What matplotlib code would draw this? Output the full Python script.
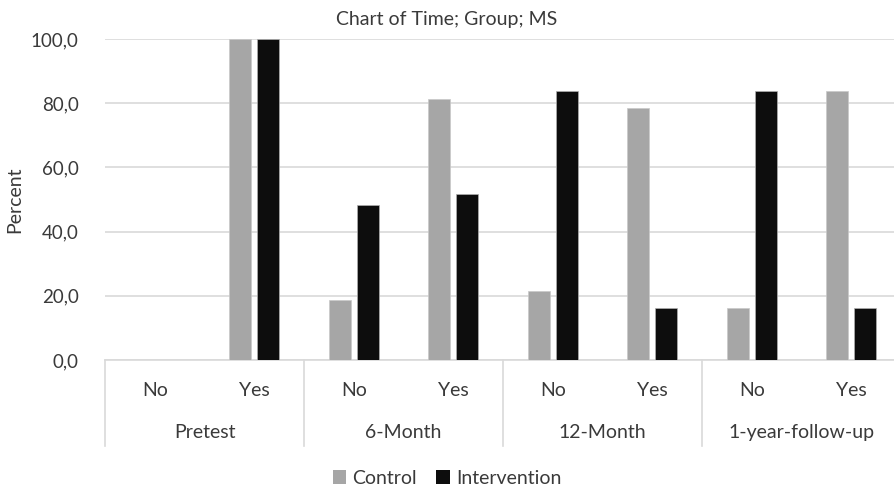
import matplotlib
matplotlib.use("Agg")
import matplotlib.pyplot as plt
import matplotlib.transforms as mtransforms
from matplotlib.patches import Patch
import numpy as np

plt.rcParams['font.family'] = ['Lato', 'DejaVu Sans']

groups = ["Pretest", "6-Month", "12-Month", "1-year-follow-up"]
subcats = ["No", "Yes"]
control = [0.0, 100.0, 18.8, 81.2, 21.6, 78.4, 16.1, 83.9]
intervention = [0.0, 100.0, 48.4, 51.6, 83.9, 16.1, 83.9, 16.1]
yticks = [0, 20, 40, 60, 80, 100]
ytick_labels = ["0,0", "20,0", "40,0", "60,0", "80,0", "100,0"]

text_color = "#3a3a3a"
grid_color = "#d9d9d9"

fig = plt.figure(figsize=(8.94, 4.88), dpi=100)
ax = fig.add_axes([105/894, 128/488, 796/894, 321/488])

x = np.arange(len(control))
w = 0.22
off = 0.14
ax.bar(x - off, control, width=w, color="#a6a6a6", edgecolor="#c8c8c8", linewidth=0.5, zorder=3)
ax.bar(x + off, intervention, width=w, color="#0d0d0d", edgecolor="#b0b0b0", linewidth=0.5, zorder=3)

ax.set_xlim(-0.5, len(control) - 0.5)
ax.set_ylim(0, 100)
ax.set_yticks(yticks)
ax.set_yticklabels(ytick_labels, fontsize=13.5, color=text_color)
ax.yaxis.grid(True, color=grid_color, linewidth=1.2, zorder=0)
ax.set_axisbelow(True)
for s in ["top", "right", "left"]:
    ax.spines[s].set_visible(False)
ax.spines["bottom"].set_color(grid_color)
ax.spines["bottom"].set_linewidth(1.2)
ax.tick_params(axis="y", length=0, pad=19)
ax.tick_params(axis="x", length=0, pad=16)

ax.set_xticks(x)
ax.set_xticklabels(subcats * len(groups), fontsize=14, color=text_color)

trans = mtransforms.blended_transform_factory(ax.transData, ax.transAxes)
for i, g in enumerate(groups):
    ax.text(2 * i + 0.5, -0.225, g, transform=trans, ha="center", va="center",
            fontsize=14, color=text_color)
for b in range(len(groups) + 1):
    ax.plot([2 * b - 0.5, 2 * b - 0.5], [0, -0.268], transform=trans,
            color=grid_color, linewidth=1.2, clip_on=False)

ax.set_ylabel("Percent", fontsize=14, color=text_color)
ax.yaxis.set_label_coords(-0.103, 0.5)

fig.text(0.5, 468/488, "Chart of Time; Group; MS", ha="center", va="center",
         fontsize=14, color=text_color)

handles = [Patch(facecolor="#a6a6a6", edgecolor="none", label="Control"),
           Patch(facecolor="#0d0d0d", edgecolor="none", label="Intervention")]
fig.legend(handles=handles, loc="center", bbox_to_anchor=(0.5, 10/488), ncol=2,
           frameon=False, fontsize=14, handlelength=0.7, handleheight=0.7,
           handletextpad=0.3, columnspacing=1.0, labelcolor=text_color)

fig.savefig("out.png", dpi=100)
